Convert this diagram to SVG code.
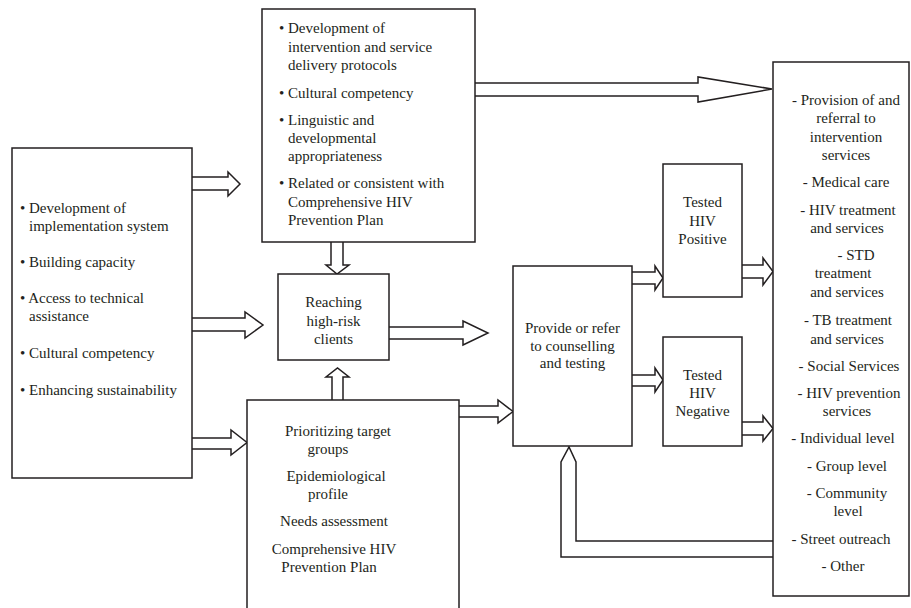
<svg xmlns="http://www.w3.org/2000/svg" width="911" height="608" viewBox="0 0 911 608">
<style>
.box{fill:#fff;stroke:#231f20;stroke-width:1.5}
.arr{fill:#fff;stroke:#231f20;stroke-width:1.5;stroke-linejoin:miter}
text{font-family:"Liberation Serif","Times New Roman",serif;font-size:15px;fill:#231f20}
.c{text-anchor:middle}
</style>
<rect width="911" height="608" fill="#fff"/>
<g id="connectors">
<path class="arr" d="M192,177 L228,177 L228,172 L240,184 L228,196 L228,190 L192,190"/>
<path class="arr" d="M192,318 L245,318 L245,312 L263,325 L245,338 L245,331 L192,331"/>
<path class="arr" d="M192,438 L231,438 L231,430 L247,442.5 L231,455 L231,449 L192,449"/>
<path class="arr" d="M331,242 L331,265 L326,265 L337,274 L349,265 L343,265 L343,242"/>
<path class="arr" d="M332,400 L332,377 L326,377 L337.5,368 L349,377 L343,377 L343,400"/>
<path class="arr" d="M389,327 L463,327 L463,321 L488,333 L463,345 L463,339 L389,339"/>
<path class="arr" d="M459,406 L498,406 L498,400 L513,411.5 L498,423 L498,417 L459,417"/>
<path class="arr" d="M475,83 L698,83 L698,77 L772,89 L698,102 L698,96 L475,96"/>
<path class="arr" d="M632,272 L655,272 L655,266 L663,278 L655,290 L655,284 L632,284"/>
<path class="arr" d="M632,375 L655,375 L655,368 L663,380 L655,392 L655,386 L632,386"/>
<path class="arr" d="M742,265 L763,265 L763,258 L773,271.5 L763,285 L763,278 L742,278"/>
<path class="arr" d="M742,422 L763,422 L763,416 L773,428.5 L763,441 L763,435 L742,435"/>
<path class="arr" d="M773,541 L576,541 L576,462 L569,447 L561,462 L561,557 L773,557"/>
</g>
<g id="node-left">
<rect class="box" x="12" y="148" width="180" height="330"/>
<text x="20" y="213">• Development of</text>
<text x="29" y="231">implementation system</text>
<text x="20" y="267">• Building capacity</text>
<text x="20" y="303">• Access to technical</text>
<text x="29" y="321">assistance</text>
<text x="20" y="358">• Cultural competency</text>
<text x="20" y="395">• Enhancing sustainability</text>
</g>
<g id="node-top">
<rect class="box" x="262" y="9" width="213" height="233"/>
<text x="279" y="33">• Development of</text>
<text x="288" y="52">intervention and service</text>
<text x="288" y="70">delivery protocols</text>
<text x="279" y="98">• Cultural competency</text>
<text x="279" y="125">• Linguistic and</text>
<text x="288" y="143">developmental</text>
<text x="288" y="161">appropriateness</text>
<text x="279" y="188">• Related or consistent with</text>
<text x="288" y="207">Comprehensive HIV</text>
<text x="288" y="225">Prevention Plan</text>
</g>
<g id="node-reaching">
<rect class="box" x="278" y="274" width="111" height="86"/>
<text class="c" x="333.5" y="307">Reaching</text>
<text class="c" x="333.5" y="326">high-risk</text>
<text class="c" x="333.5" y="344">clients</text>
</g>
<g id="node-bottom">
<rect class="box" x="247" y="400" width="212" height="215"/>
<text class="c" x="338" y="436">Prioritizing target</text>
<text class="c" x="328" y="454">groups</text>
<text class="c" x="336" y="481">Epidemiological</text>
<text class="c" x="328" y="499">profile</text>
<text class="c" x="334" y="526">Needs assessment</text>
<text class="c" x="334" y="554">Comprehensive HIV</text>
<text class="c" x="329" y="572">Prevention Plan</text>
</g>
<g id="node-provide">
<rect class="box" x="513" y="266" width="119" height="180"/>
<text class="c" x="572.5" y="333">Provide or refer</text>
<text class="c" x="572.5" y="351">to counselling</text>
<text class="c" x="572.5" y="368">and testing</text>
</g>
<g id="node-positive">
<rect class="box" x="663" y="164" width="79" height="133"/>
<text class="c" x="702.5" y="207">Tested</text>
<text class="c" x="702.5" y="226">HIV</text>
<text class="c" x="702.5" y="244">Positive</text>
</g>
<g id="node-negative">
<rect class="box" x="663" y="337" width="79" height="109"/>
<text class="c" x="702.5" y="380">Tested</text>
<text class="c" x="702.5" y="398">HIV</text>
<text class="c" x="702.5" y="416">Negative</text>
</g>
<g id="node-services">
<rect class="box" x="773" y="62" width="136" height="534"/>
<text class="c" x="846" y="105">- Provision of and</text>
<text class="c" x="846" y="123">referral to</text>
<text class="c" x="846" y="142">intervention</text>
<text class="c" x="846" y="160">services</text>
<text class="c" x="846" y="187">- Medical care</text>
<text class="c" x="848" y="215">- HIV treatment</text>
<text class="c" x="847" y="233">and services</text>
<text class="c" x="856" y="260">- STD</text>
<text class="c" x="843" y="278">treatment</text>
<text class="c" x="847" y="297">and services</text>
<text class="c" x="848" y="325">- TB treatment</text>
<text class="c" x="847" y="344">and services</text>
<text class="c" x="849" y="371">- Social Services</text>
<text class="c" x="849" y="398">- HIV prevention</text>
<text class="c" x="847" y="416">services</text>
<text class="c" x="843" y="443">- Individual level</text>
<text class="c" x="847" y="471">- Group level</text>
<text class="c" x="847" y="498">- Community</text>
<text class="c" x="848" y="516">level</text>
<text class="c" x="841" y="544">- Street outreach</text>
<text class="c" x="843" y="571">- Other</text>
</g>
</svg>
